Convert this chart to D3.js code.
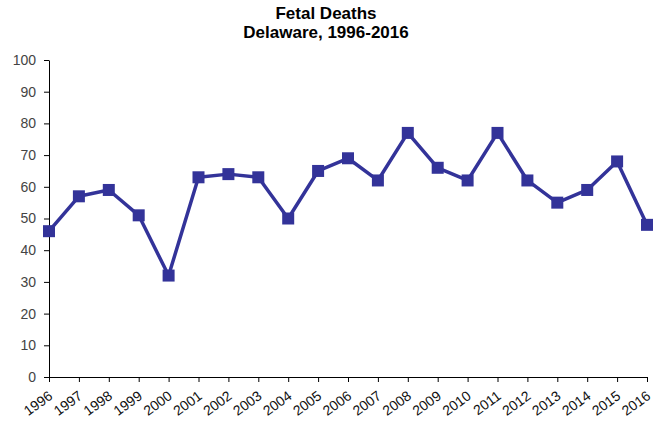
<!DOCTYPE html>
<meta charset="utf-8">
<style>
body{margin:0;background:#fff;}
text{font-family:"Liberation Sans",Arial,sans-serif;}
</style>
<body>
<script src="https://d3js.org/d3.v7.min.js"></script>
<script>
var years = [1996,1997,1998,1999,2000,2001,2002,2003,2004,2005,2006,2007,2008,2009,2010,2011,2012,2013,2014,2015,2016];
var deaths = [46,57,59,51,32,63,64,63,50,65,69,62,77,66,62,77,62,55,59,68,48];
var yTicks = [0,10,20,30,40,50,60,70,80,90,100];
var titleLines = ["Fetal Deaths", "Delaware, 1996-2016"];

var w = 662, h = 423;
var m = {left: 49, right: 15, top: 60, bottom: 46};

var svg = d3.select("body").append("svg")
  .attr("width", w)
  .attr("height", h);

var x = d3.scalePoint()
  .domain(years)
  .range([m.left, w - m.right]);

var y = d3.scaleLinear()
  .domain([0, 100])
  .range([h - m.bottom, m.top]);

// title
svg.selectAll(".title")
  .data(titleLines)
  .enter().append("text")
  .attr("x", 326)
  .attr("y", function(d, i) { return 19 + i * 19; })
  .attr("text-anchor", "middle")
  .style("font-size", "17px")
  .style("font-weight", "bold")
  .text(function(d) { return d; });

// y axis
var yAxis = svg.append("g")
  .attr("transform", "translate(" + m.left + ",0)")
  .call(d3.axisLeft(y).tickValues(yTicks).tickSize(5).tickPadding(8).tickSizeOuter(0));
yAxis.selectAll("text").style("font-size", "14px").attr("fill", "#444");

// x axis
var xAxis = svg.append("g")
  .attr("transform", "translate(0," + (h - m.bottom) + ")")
  .call(d3.axisBottom(x).tickSize(5).tickSizeOuter(0));
xAxis.selectAll("text")
  .style("font-size", "14px")
  .attr("fill", "#111")
  .attr("text-anchor", "end")
  .attr("dy", null)
  .attr("y", 0)
  .attr("transform", "translate(4,21) rotate(-36)");

svg.selectAll(".domain, .tick line").attr("stroke", "#000");

// line
var line = d3.line()
  .x(function(d, i) { return x(years[i]); })
  .y(function(d) { return y(d); });

svg.append("path")
  .datum(deaths)
  .attr("d", line)
  .attr("fill", "none")
  .attr("stroke", "#333399")
  .attr("stroke-width", 3.5)
  .attr("stroke-linejoin", "round");

svg.selectAll(".pt")
  .data(deaths)
  .enter().append("rect")
  .attr("class", "pt")
  .attr("x", function(d, i) { return x(years[i]) - 6; })
  .attr("y", function(d) { return y(d) - 6; })
  .attr("width", 12)
  .attr("height", 12)
  .attr("fill", "#333399");
</script>
</body>
